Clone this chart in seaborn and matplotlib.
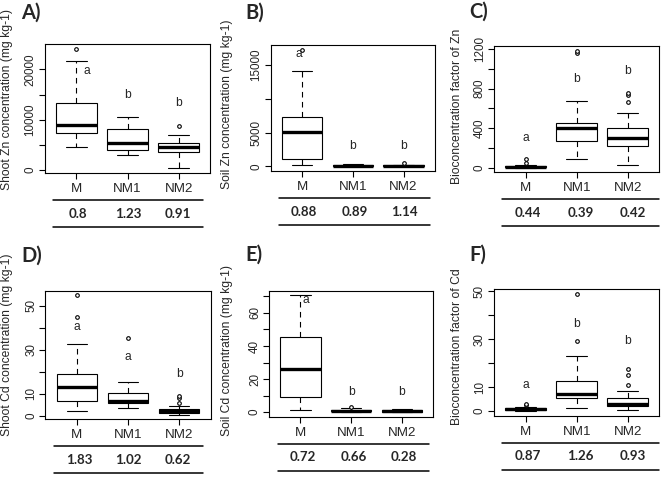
import numpy as np
import pandas as pd
import matplotlib
matplotlib.use("Agg")
import matplotlib.pyplot as plt
import seaborn as sns

# ---------------- data ----------------
groups = ["M", "NM1", "NM2"]

# A) Shoot Zn concentration
A_low = [4530, 3070, 400]
A_q1 = [7330, 4000, 3600]
A_med = [9070, 5400, 4530]
A_q3 = [13330, 8130, 5330]
A_high = [21670, 10470, 7070]
A_out = [[24100], [], [8800]]
A_letters = ["a", "b", "b"]
A_letter_y = [19670, 15000, 13330]
A_ratio = ["0.8", "1.23", "0.91"]

# B) Soil Zn concentration
B_low = [200, 10, 10]
B_q1 = [1030, 40, 40]
B_med = [5020, 90, 80]
B_q3 = [7230, 180, 160]
B_high = [14100, 350, 250]
B_out = [[17200], [], [450]]
B_letters = ["a", "b", "b"]
B_letter_y = [16600, 2950, 2950]
B_ratio = ["0.88", "0.89", "1.14"]

# C) Bioconcentration factor of Zn
C_low = [0, 84, 27]
C_q1 = [2, 272, 222]
C_med = [6, 396, 296]
C_q3 = [14, 454, 396]
C_high = [30, 679, 551]
C_out = [[50, 87], [1156, 1183], [665, 733, 759]]
C_letters = ["a", "b", "b"]
C_letter_y = [296, 897, 981]
C_ratio = ["0.44", "0.39", "0.42"]

# D) Shoot Cd concentration
D_low = [2.3, 3.4, 0.6]
D_q1 = [6.7, 5.7, 1.1]
D_med = [13.3, 6.9, 2.0]
D_q3 = [18.9, 10.3, 2.9]
D_high = [32.5, 15.2, 4.3]
D_out = [[44.9, 54.6], [35.3], [5.7, 8.1, 9.0]]
D_letters = ["a", "a", "b"]
D_letter_y = [40.3, 26.5, 19.2]
D_ratio = ["1.83", "1.02", "0.62"]

# E) Soil Cd concentration
E_low = [1.6, 0.2, 0.1]
E_q1 = [9.2, 0.6, 0.4]
E_med = [26.4, 1.0, 0.7]
E_q3 = [45.6, 1.6, 1.2]
E_high = [70.6, 2.4, 1.8]
E_out = [[], [3.2], []]
E_letters = ["a", "b", "b"]
E_letter_y = [68.0, 12.0, 12.0]
E_ratio = ["0.72", "0.66", "0.28"]

# F) Bioconcentration factor of Cd
F_low = [0.1, 1.4, 0.4]
F_q1 = [0.4, 5.6, 2.3]
F_med = [0.8, 7.3, 3.0]
F_q3 = [1.2, 12.6, 5.4]
F_high = [1.8, 22.9, 8.5]
F_out = [[2.6, 3.2], [29.3, 48.9], [10.9, 15.1, 17.6]]
F_letters = ["a", "b", "b"]
F_letter_y = [11.0, 36.3, 29.3]
F_ratio = ["0.87", "1.26", "0.93"]

# ---------------- style ----------------
sns.set_style("white")
plt.rcParams["font.family"] = ["Liberation Sans", "DejaVu Sans"]
plt.rcParams["axes.linewidth"] = 0.8

W, H = 661, 479
fig = plt.figure(figsize=(W / 100, H / 100), dpi=100)


def fx(x):
    return x / W


def fy(y):
    return 1 - y / H


def build_frames(low, q1, med, q3, high, out):
    rows, orows = [], []
    for g, lo, a, m, b, hi, o in zip(groups, low, q1, med, q3, high, out):
        vals = [lo] + [a] * 10 + [m] * 10 + [b] * 10 + [hi]
        rows += [(g, v) for v in vals]
        orows += [(g, v) for v in o]
    return (pd.DataFrame(rows, columns=["group", "value"]),
            pd.DataFrame(orows, columns=["group", "value"]))


panels = [
    dict(tag="A)", stats=(A_low, A_q1, A_med, A_q3, A_high, A_out), letters=A_letters,
         ly=A_letter_y, lx=[0.2, 0, 0], ratio=A_ratio,
         ylabel="Shoot Zn concentration (mg kg-1)",
         rect=(44.7, 44, 210.3, 173), ylab=(7, 99), tagpos=(21, 3),
         ticks=[0, 5000, 10000, 15000, 20000], shown=[0, 10000, 20000], line=(53, 203)),
    dict(tag="B)", stats=(B_low, B_q1, B_med, B_q3, B_high, B_out), letters=B_letters,
         ly=B_letter_y, lx=[-0.07, 0, 0], ratio=B_ratio,
         ylabel="Soil Zn concentration (mg kg-1)",
         rect=(270.7, 45.3, 435, 171), ylab=(227, 104), tagpos=(245, 3),
         ticks=[0, 5000, 10000, 15000], shown=[0, 5000, 15000], line=(279, 430)),
    dict(tag="C)", stats=(C_low, C_q1, C_med, C_q3, C_high, C_out), letters=C_letters,
         ly=C_letter_y, lx=[0, 0, 0], ratio=C_ratio,
         ylabel="Bioconcentration factor of Zn",
         rect=(494, 46, 659.3, 172.3), ylab=(457, 106), tagpos=(469, 2),
         ticks=[0, 200, 400, 600, 800, 1000, 1200], shown=[0, 400, 800, 1200], line=(502, 659)),
    dict(tag="D)", stats=(D_low, D_q1, D_med, D_q3, D_high, D_out), letters=D_letters,
         ly=D_letter_y, lx=[0, 0, 0], ratio=D_ratio,
         ylabel="Shoot Cd concentration (mg kg-1)",
         rect=(45.3, 290.7, 210.7, 419.3), ylab=(7, 345), tagpos=(21, 246),
         ticks=[0, 10, 20, 30, 40, 50], shown=[0, 10, 30, 50], line=(54, 203)),
    dict(tag="E)", stats=(E_low, E_q1, E_med, E_q3, E_high, E_out), letters=E_letters,
         ly=E_letter_y, lx=[0.1, 0, 0], ratio=E_ratio,
         ylabel="Soil Cd concentration (mg kg-1)",
         rect=(269, 290.7, 433.3, 416.7), ylab=(227, 350), tagpos=(245, 245),
         ticks=[0, 10, 20, 30, 40, 50, 60, 70], shown=[0, 20, 40, 60], line=(278, 429)),
    dict(tag="F)", stats=(F_low, F_q1, F_med, F_q3, F_high, F_out), letters=F_letters,
         ly=F_letter_y, lx=[0, 0, 0], ratio=F_ratio,
         ylabel="Bioconcentration factor of Cd",
         rect=(494, 289, 659.3, 415.7), ylab=(457, 347), tagpos=(469, 245),
         ticks=[0, 10, 20, 30, 40, 50], shown=[0, 10, 30, 50], line=(502, 659)),
]

FS = 8.7

for p in panels:
    l, t, r, b = p["rect"]
    ax = fig.add_axes([fx(l), fy(b), (r - l) / W, (b - t) / H])
    df, odf = build_frames(*p["stats"])
    sns.boxplot(data=df, x="group", y="value", order=groups, color="white",
                linecolor="black", linewidth=0.8, width=0.8, whis=(0, 100),
                showfliers=False, ax=ax,
                medianprops=dict(linewidth=2.4, color="black", solid_capstyle="butt"),
                whiskerprops=dict(linestyle=(0, (5, 4)), linewidth=0.8),
                capprops=dict(linewidth=0.8))
    if len(odf):
        sns.stripplot(data=odf, x="group", y="value", order=groups, jitter=False,
                      color="white", edgecolor="black", linewidth=0.8, size=2.6,
                      ax=ax, zorder=5)
    allv = np.concatenate([df["value"].values, odf["value"].values])
    lo, hi = allv.min(), allv.max()
    rng = hi - lo
    ax.set_ylim(lo - 0.04 * rng, hi + 0.04 * rng)
    ax.set_xlim(-0.62, 2.62)
    ax.set_xlabel("")
    ax.set_ylabel("")
    ax.set_xticks([0, 1, 2])
    ax.set_xticklabels(groups, fontsize=9.6)
    ax.set_yticks(p["ticks"])
    ax.set_yticklabels([str(v) if v in p["shown"] else "" for v in p["ticks"]], fontsize=8.4)
    ax.tick_params(axis="both", direction="out", length=4.3, width=0.8, color="black",
                   left=True, bottom=True)
    ax.tick_params(axis="y", labelrotation=90, pad=1.5)
    ax.tick_params(axis="x", pad=3.0)
    for lab in ax.get_yticklabels():
        lab.set_va("center")
    for sp in ax.spines.values():
        sp.set_visible(True)
        sp.set_color("black")
        sp.set_linewidth(0.8)
    for i, (let, yv, dx) in enumerate(zip(p["letters"], p["ly"], p["lx"])):
        ax.text(i + dx, yv, let, ha="center", va="center", fontsize=FS, zorder=6)

    # y label
    fig.text(fx(p["ylab"][0]), fy(p["ylab"][1]), p["ylabel"], rotation=90,
             ha="center", va="center", fontsize=FS)
    # panel tag
    fig.text(fx(p["tagpos"][0]), fy(p["tagpos"][1]), p["tag"], ha="left", va="top",
             fontsize=14.5, fontweight="bold", family=["Lato", "DejaVu Sans"])
    # table below the axis
    x0, x1 = p["line"]
    for yy in (b + 27, b + 54):
        fig.add_artist(plt.Line2D([fx(x0), fx(x1)], [fy(yy), fy(yy)],
                                  color="black", linewidth=1.1))
    cw = (x1 - x0) / 3
    for i, val in enumerate(p["ratio"]):
        fig.text(fx(x0 + (i + 0.5) * cw), fy(b + 40.5), val, ha="center", va="center",
                 fontsize=9.6, fontweight="bold", family=["Lato", "DejaVu Sans"])

fig.savefig("out.png", dpi=100)
